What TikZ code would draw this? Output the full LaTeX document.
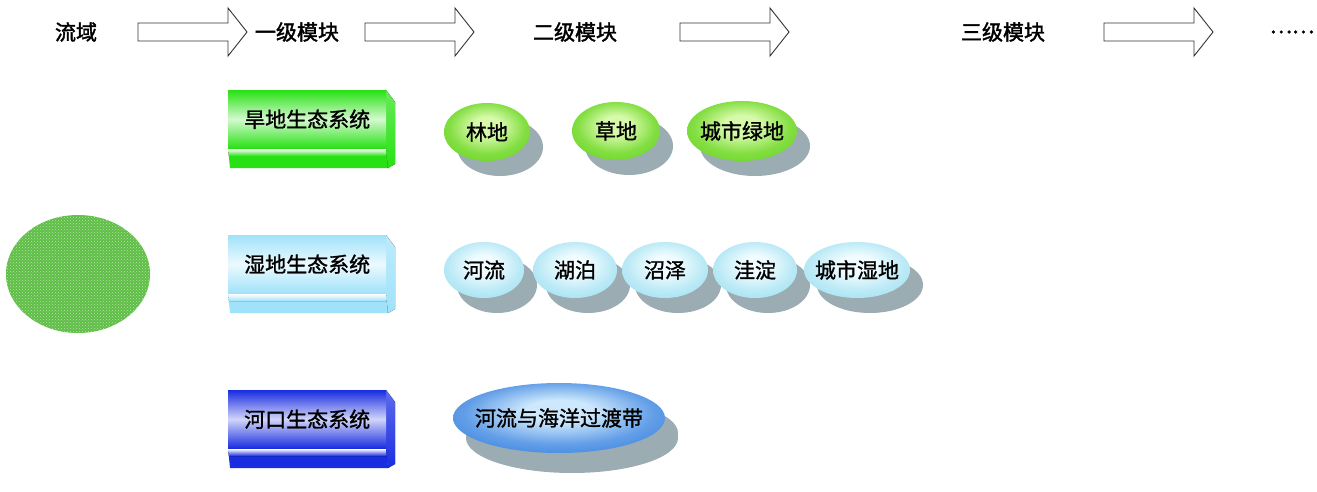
\documentclass[tikz,border=0pt]{standalone}
\usepackage{fontspec}
\newfontfamily\cjk{Noto Sans CJK SC}[FakeBold=1.3]
\newfontfamily\cjkb{Noto Sans CJK SC}[FakeBold=1.8]
\usetikzlibrary{shapes.geometric,shadows,patterns,calc}
\definecolor{bxgreen}{RGB}{40,225,20}
\definecolor{bxcyan}{RGB}{160,226,250}
\definecolor{bxblue}{RGB}{25,45,225}
\definecolor{elgreen}{RGB}{110,215,40}
\definecolor{elgreenin}{RGB}{215,250,170}
\definecolor{elcyan}{RGB}{165,226,242}
\definecolor{elcyanin}{RGB}{240,252,255}
\definecolor{elblue}{RGB}{65,135,225}
\definecolor{elbluein}{RGB}{205,232,252}
\definecolor{shgray}{RGB}{155,172,178}
\definecolor{domgreen}{RGB}{95,190,70}
\pgfdeclareradialshading{shgreen}{\pgfpoint{0bp}{6bp}}{color(0bp)=(elgreenin); color(8bp)=(elgreenin); color(22bp)=(elgreen!80!elgreenin); color(31bp)=(elgreen); color(50bp)=(elgreen)}
\pgfdeclareradialshading{shcyan}{\pgfpoint{0bp}{6bp}}{color(0bp)=(elcyanin); color(8bp)=(elcyanin); color(22bp)=(elcyan!70!elcyanin); color(31bp)=(elcyan); color(50bp)=(elcyan)}
\pgfdeclareradialshading{shblue}{\pgfpoint{0bp}{6bp}}{color(0bp)=(elbluein); color(8bp)=(elbluein); color(22bp)=(elblue!75!elbluein); color(31bp)=(elblue); color(50bp)=(elblue)}
\newcommand\ztext[1]{\makebox[0pt]{#1}}
\tikzset{
  hdr/.style={font=\cjkb\fontsize{21}{24}\selectfont, inner sep=0pt},
  hdrarrow/.style={draw=black!80, line width=0.9pt, fill=white},
  leaf/.style={ellipse, inner sep=0pt, font=\cjk\fontsize{21}{24}\selectfont, text=black,
     drop shadow={shadow xshift=13pt, shadow yshift=-15pt, fill=shgray, opacity=1}},
  leafgreen/.style={leaf, shading=shgreen},
  leafcyan/.style={leaf, shading=shcyan},
  leafblue/.style={leaf, shading=shblue},
  boxface/.style={inner sep=0pt, minimum width=158pt, minimum height=58pt, anchor=north west,
     font=\cjk\fontsize{21}{24}\selectfont, text=black},
}
\newcommand\hdrarrowat[1]{%
  \draw[hdrarrow] (#1,23) -- ++(90,0) -- ++(0,-15) -- ++(19,24) -- ++(-19,24) -- ++(0,-15) -- ++(-90,0) -- cycle;}
\newcommand\ecobox[5]{% name, x, y, colour, text
  \begin{scope}[shift={(#2,#3)}]
    \fill[#4] (0,58) -- (158,58) -- (160,78) -- (2,78) -- cycle;
    \fill[top color=white, bottom color=#4] (0,59) -- (158,59) -- (159,66) -- (1,66) -- cycle;
    \fill[top color=#4!70!white, bottom color=#4] (158,0) -- (167,12) -- (167,74) -- (160,78) -- (158,58) -- cycle;
    \node[boxface, top color=#4, bottom color=#4, middle color=#4!20!white] (#1) at (0,0) {#5};
  \end{scope}}
\begin{document}
\begin{tikzpicture}[x=1pt, y=-1pt]
\useasboundingbox (0,0) rectangle (1317,492);
% header
\node[hdr] (t0) at (76,32) {流域};
\hdrarrowat{138}
\node[hdr] (t1) at (297,32) {一级模块};
\hdrarrowat{365}
\node[hdr] (t2) at (575,32) {二级模块};
\hdrarrowat{680}
\node[hdr] (t3) at (1003,32) {三级模块};
\hdrarrowat{1104}
\node[hdr] (t4) at (1292,32) {……};
% basin
\node[ellipse, minimum width=144pt, minimum height=118pt, inner sep=0pt, fill=domgreen,
  postaction={pattern=crosshatch dots, pattern color=white!55!domgreen}] (basin) at (78,274) {};
% first-level boxes
\ecobox{dry}{228}{90}{bxgreen}{旱地生态系统}
\ecobox{wet}{228}{235}{bxcyan}{湿地生态系统}
\ecobox{est}{228}{390}{bxblue}{河口生态系统}
% second-level: dry
\node[leafgreen, minimum width=86pt, minimum height=58pt] (forest) at (487,132) {\ztext{林地}};
\node[leafgreen, minimum width=88pt, minimum height=58pt] (grass) at (616,131) {\ztext{草地}};
\node[leafgreen, minimum width=110pt, minimum height=60pt] (urbgreen) at (742,131) {\ztext{城市绿地}};
% second-level: wet
\node[leafcyan, minimum width=80pt, minimum height=56pt] (river) at (484,270) {\ztext{河流}};
\node[leafcyan, minimum width=84pt, minimum height=56pt] (lake) at (575,270) {\ztext{湖泊}};
\node[leafcyan, minimum width=86pt, minimum height=56pt] (marsh) at (665,270) {\ztext{沼泽}};
\node[leafcyan, minimum width=84pt, minimum height=56pt] (pond) at (755,270) {\ztext{洼淀}};
\node[leafcyan, minimum width=106pt, minimum height=56pt] (urbwet) at (857,270) {\ztext{城市湿地}};
% second-level: estuary
\node[leafblue, minimum width=212pt, minimum height=70pt,
  drop shadow={shadow xshift=13pt, shadow yshift=-20pt, fill=shgray, opacity=1}] (trans) at (559,418) {\ztext{河流与海洋过渡带}};
\end{tikzpicture}
\end{document}
